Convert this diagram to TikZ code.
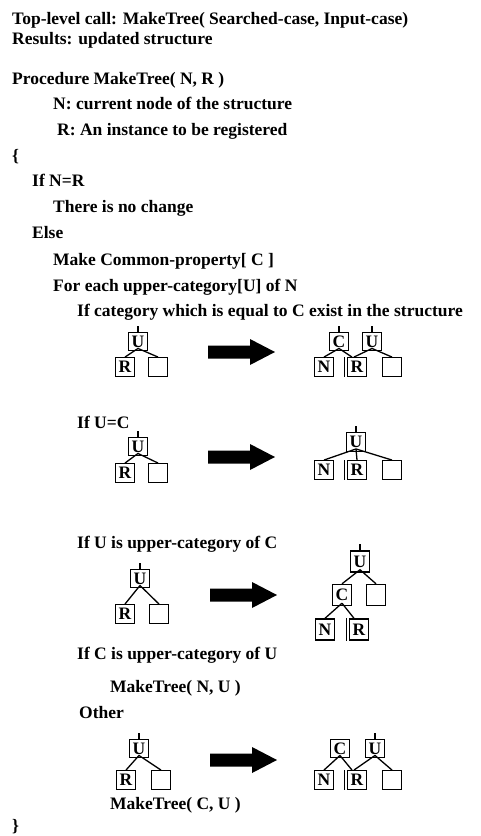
\documentclass[tikz,border=0pt]{standalone}
\usepackage{fontspec}
\setmainfont{Liberation Serif}
\begin{document}
\begin{tikzpicture}[x=1pt,y=-1pt,
  txt/.style={anchor=base west,inner sep=0pt,font=\bfseries\fontsize{17.5}{20}\selectfont},
  bx/.style={draw,line width=1.4pt,minimum width=18.5pt,minimum height=18.5pt,inner sep=0pt,font=\bfseries\fontsize{17.5}{17.5}\selectfont},
  lnk/.style={line width=1.3pt},
  bigarrow/.pic={\fill (0,-6.5) -- (42,-6.5) -- (42,-13) -- (67,0) -- (42,13) -- (42,6.5) -- (0,6.5) -- cycle;}]
\fill[white] (0,0) rectangle (480,836);
\useasboundingbox (0,0) rectangle (480,836);
% text
\node[txt] (t1) at (12,24) {Top-level call: MakeTree( Searched-case, Input-case)};
\node[txt] (t2) at (12,44) {Results: updated structure};
\node[txt] (t3) at (12,84) {Procedure MakeTree( N, R )};
\node[txt] (t4) at (53,109) {N: current node of the structure};
\node[txt] (t5) at (57,135) {R: An instance to be registered};
\node[txt] (t6) at (12,161) {\{};
\node[txt] (t7) at (32,186) {If N=R};
\node[txt] (t8) at (53,212) {There is no change};
\node[txt] (t9) at (32,238) {Else};
\node[txt] (t10) at (53,265) {Make Common-property[ C ]};
\node[txt] (t11) at (53,291) {For each upper-category[U] of N};
\node[txt] (t12) at (77,316) {If category which is equal to C exist in the structure};
\node[txt] (t13) at (77,428) {If U=C};
\node[txt] (t14) at (77,548) {If U is upper-category of C};
\node[txt] (t15) at (77,659) {If C is upper-category of U};
\node[txt] (t16) at (110,692) {MakeTree( N, U )};
\node[txt] (t17) at (79,718) {Other};
\node[txt] (t18) at (110,809) {MakeTree( C, U )};
\node[txt] (t19) at (12,831) {\}};
% ---------- tree 1
\node[bx] (a1U) at (138,341.5) {U};
\node[bx] (a1R) at (125,367) {R};
\node[bx] (a1E) at (158,367) {};
\coordinate (a1s) at ([yshift=6pt]a1U.north);
\draw[lnk] (a1U.north) -- (a1s);
\draw[lnk] ([yshift=3pt]a1U.south) -- (a1R.north);
\draw[lnk] ([yshift=3pt]a1U.south) -- (a1E.north);
\pic at (208,352) {bigarrow};
\node[bx] (b1C) at (339,341.5) {C};
\node[bx] (b1U) at (372,341.5) {U};
\node[bx] (b1N) at (324,367) {N};
\node[bx] (b1R) at (357,367) {R};
\node[bx] (b1E) at (392,367) {};
\coordinate (b1sC) at ([yshift=6pt]b1C.north);
\coordinate (b1sU) at ([yshift=6pt]b1U.north);
\draw[lnk] (b1C.north) -- (b1sC);
\draw[lnk] (b1U.north) -- (b1sU);
\draw[lnk] ([yshift=3pt]b1C.south) -- (b1N.north);
\draw[lnk] ([yshift=3pt]b1C.south) -- ([xshift=-5pt]b1R.north);
\draw[lnk] ([yshift=3pt]b1U.south) -- ([xshift=-3pt]b1R.north);
\draw[lnk] ([yshift=3pt]b1U.south) -- (b1E.north);
\draw[lnk] ([xshift=-2.5pt]b1R.north west) -- ([xshift=-2.5pt]b1R.south west);
% ---------- tree 2
\node[bx] (a2U) at (138,446.5) {U};
\node[bx] (a2R) at (125,473) {R};
\node[bx] (a2E) at (158,473) {};
\coordinate (a2s) at ([yshift=6pt]a2U.north);
\draw[lnk] (a2U.north) -- (a2s);
\draw[lnk] ([yshift=3pt]a2U.south) -- (a2R.north);
\draw[lnk] ([yshift=3pt]a2U.south) -- (a2E.north);
\pic at (208,457) {bigarrow};
\node[bx] (b2U) at (356,442) {U};
\node[bx] (b2N) at (324,470) {N};
\node[bx] (b2R) at (357,470) {R};
\node[bx] (b2E) at (392,470) {};
\coordinate (b2s) at ([yshift=6pt]b2U.north);
\draw[lnk] (b2U.north) -- (b2s);
\draw[lnk] ([yshift=3pt]b2U.south) -- (b2N.north);
\draw[lnk] ([yshift=3pt]b2U.south) -- (b2R.north);
\draw[lnk] ([yshift=3pt]b2U.south) -- (b2E.north);
\draw[lnk] ([xshift=-2.5pt]b2R.north west) -- ([xshift=-2.5pt]b2R.south west);
% ---------- tree 3
\node[bx] (a3U) at (140,578.5) {U};
\node[bx] (a3R) at (125,614) {R};
\node[bx] (a3E) at (159,614) {};
\coordinate (a3s) at ([yshift=6pt]a3U.north);
\draw[lnk] (a3U.north) -- (a3s);
\draw[lnk] ([yshift=3pt]a3U.south) -- (a3R.north);
\draw[lnk] ([yshift=3pt]a3U.south) -- (a3E.north);
\pic at (210,595) {bigarrow};
\node[bx,minimum height=21pt] (b3U) at (360,561.5) {U};
\node[bx,minimum height=21pt] (b3C) at (342,595) {C};
\node[bx,minimum height=21pt] (b3E) at (376,595) {};
\node[bx,minimum height=21pt] (b3N) at (325,629.5) {N};
\node[bx,minimum height=21pt] (b3R) at (359,629.5) {R};
\coordinate (b3s) at ([yshift=6pt]b3U.north);
\draw[lnk] (b3U.north) -- (b3s);
\draw[lnk] ([yshift=3pt]b3U.south) -- (b3C.north);
\draw[lnk] ([yshift=3pt]b3U.south) -- (b3E.north);
\draw[lnk] ([yshift=3pt]b3C.south) -- (b3N.north);
\draw[lnk] ([yshift=3pt]b3C.south) -- ([xshift=-5pt]b3R.north);
\draw[lnk] ([xshift=-2.5pt]b3R.north west) -- ([xshift=-2.5pt]b3R.south west);
% ---------- tree 4
\node[bx] (a4U) at (139,748.5) {U};
\node[bx] (a4R) at (126,780) {R};
\node[bx] (a4E) at (161,780) {};
\coordinate (a4s) at ([yshift=6pt]a4U.north);
\draw[lnk] (a4U.north) -- (a4s);
\draw[lnk] ([yshift=3pt]a4U.south) -- (a4R.north);
\draw[lnk] ([yshift=3pt]a4U.south) -- (a4E.north);
\pic at (210,760) {bigarrow};
\node[bx] (b4C) at (340,748.5) {C};
\node[bx] (b4U) at (375,748.5) {U};
\node[bx] (b4N) at (324,780) {N};
\node[bx] (b4R) at (357,780) {R};
\node[bx] (b4E) at (392,780) {};
\coordinate (b4s) at ([yshift=6pt]b4U.north);
\draw[lnk] (b4U.north) -- (b4s);
\draw[lnk] ([yshift=3pt]b4C.south) -- (b4N.north);
\draw[lnk] ([yshift=3pt]b4C.south) -- ([xshift=-5pt]b4R.north);
\draw[lnk] ([yshift=3pt]b4U.south) -- ([xshift=-3pt]b4R.north);
\draw[lnk] ([yshift=3pt]b4U.south) -- (b4E.north);
\draw[lnk] ([xshift=-2.5pt]b4R.north west) -- ([xshift=-2.5pt]b4R.south west);
\end{tikzpicture}
\end{document}
